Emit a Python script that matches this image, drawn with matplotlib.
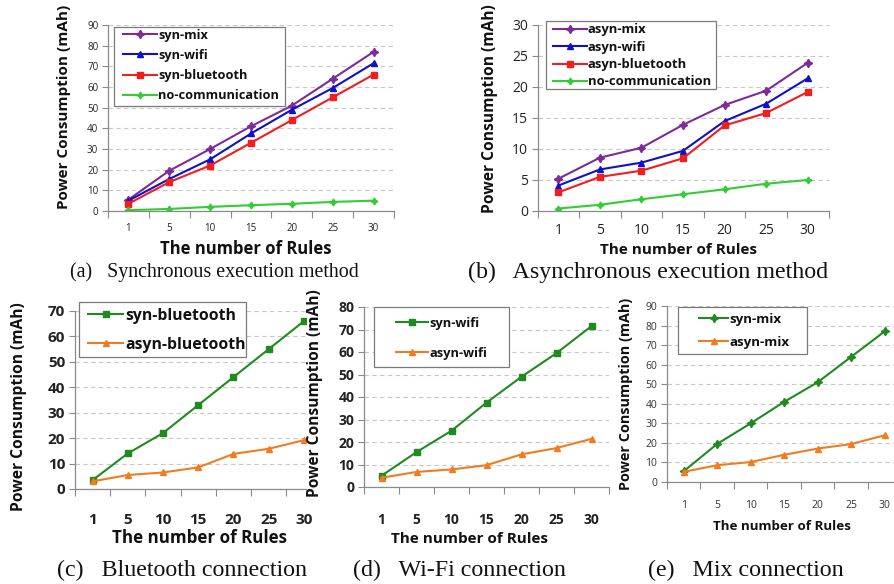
import matplotlib
matplotlib.use("Agg")
import matplotlib.pyplot as plt
from matplotlib.ticker import FixedLocator, NullFormatter
from matplotlib.patches import Rectangle

W, H = 894, 584

rules = ["1", "5", "10", "15", "20", "25", "30"]

# (a) synchronous
syn_mix = [5.5, 19.5, 30, 41, 51, 64, 77]
syn_wifi = [5, 15.5, 25, 37.5, 49, 59.5, 71.5]
syn_bt = [3.5, 14, 22, 33, 44, 55, 66]
no_comm_a = [0.4, 1.0, 2.0, 2.8, 3.5, 4.4, 5.0]

# (b) asynchronous
asyn_mix = [5.2, 8.6, 10.2, 13.9, 17.1, 19.4, 23.9]
asyn_wifi = [4.1, 6.7, 7.8, 9.7, 14.5, 17.3, 21.4]
asyn_bt = [3.0, 5.5, 6.5, 8.5, 13.8, 15.8, 19.2]
no_comm_b = [0.4, 1.0, 1.9, 2.7, 3.5, 4.4, 5.0]

captions = ["(a)   Synchronous execution method",
            "(b)   Asynchronous execution method",
            "(c)   Bluetooth connection",
            "(d)   Wi-Fi connection",
            "(e)   Mix connection"]

SANS = ["Open Sans", "DejaVu Sans"]
LAB = ["Open Sans", "DejaVu Sans"]
SERIF = ["Liberation Serif", "DejaVu Serif"]
plt.rcParams['font.family'] = SANS

fig = plt.figure(figsize=(W / 100, H / 100), dpi=100)
renderer = fig.canvas.get_renderer()


def text_w(s, size, weight, family):
    t = fig.text(0, 0, s, fontsize=size, fontweight=weight, family=family)
    w = t.get_window_extent(renderer=renderer).width
    t.remove()
    return w


def fit(s, target, weight='bold', family=LAB, base=10.0):
    return base * target / text_w(s, base, weight, family)


def px_axes(left, top, right, bottom):
    return fig.add_axes([left / W, 1 - bottom / H, (right - left) / W, (bottom - top) / H])


def style(ax, ymax, ystep, xmax, tick_fs, tick_bold, tick_pad, tick_color):
    x = list(range(len(rules)))
    ax.set_xlim(-0.5, xmax)
    ax.set_ylim(0, ymax)
    ax.set_xticks(x)
    ax.set_xticklabels(rules, fontsize=tick_fs, fontweight='bold' if tick_bold else 'normal',
                       color=tick_color)
    ax.xaxis.set_minor_locator(FixedLocator([i - 0.5 for i in range(len(rules) + 1)]))
    ax.xaxis.set_minor_formatter(NullFormatter())
    ax.tick_params(axis='x', which='major', length=0, pad=tick_pad)
    ax.tick_params(axis='x', which='minor', length=5, color='#8a8a8a', width=0.8, direction='out')
    yt = list(range(0, ymax + 1, ystep))
    ax.set_yticks(yt)
    ax.tick_params(axis='y', length=4, color='#8a8a8a', width=0.8, labelsize=tick_fs, pad=3,
                   labelcolor=tick_color)
    for lab in ax.get_yticklabels():
        lab.set_fontweight('bold' if tick_bold else 'normal')
    for s in ['top', 'right']:
        ax.spines[s].set_visible(False)
    for s in ['left', 'bottom']:
        ax.spines[s].set_color('#8a8a8a')
        ax.spines[s].set_linewidth(0.9)
    ax.yaxis.grid(True, linestyle=(0, (4, 3)), color='#c8c8c8', linewidth=0.8)
    ax.set_axisbelow(True)
    ax.patch.set_alpha(0)


def labels(ax, xl_xy, yl_xy, xw, yw):
    xs = "The number of Rules"
    ys = "Power Consumption (mAh)"
    ax.set_xlabel(xs, fontsize=fit(xs, xw), fontweight='bold', color='#111111', family=LAB)
    ax.set_ylabel(ys, fontsize=fit(ys, yw), fontweight='bold', color='#111111', family=LAB)
    ax.xaxis.set_label_coords(xl_xy[0] / W, 1 - xl_xy[1] / H, transform=fig.transFigure)
    ax.yaxis.set_label_coords(yl_xy[0] / W, 1 - yl_xy[1] / H, transform=fig.transFigure)
    ax.xaxis.label.set_va('center')
    ax.yaxis.label.set_va('center')


def legend(ax, box, hx0, hx1, tx, row1, pitch, longest, wtarget):
    fs = fit(longest, wtarget, 'bold', LAB)
    fpx = fs * 100 / 72
    hl = (hx1 - hx0) / fpx
    htp = (tx - hx1) / fpx
    ls = 0.5
    anchor = [hx0, row1 - 0.7 * fpx]
    prop = {'weight': 'bold', 'size': fs, 'family': LAB}

    def build():
        lg = ax.legend(loc='upper left', bbox_to_anchor=(anchor[0] / W, 1 - anchor[1] / H),
                       bbox_transform=fig.transFigure, borderaxespad=0, borderpad=0,
                       frameon=False, prop=prop, handlelength=hl, handletextpad=htp,
                       labelspacing=ls)
        for t in lg.get_texts():
            t.set_color('#111111')
        lg.set_zorder(6)
        return lg

    for _ in range(3):
        lg = build()
        fig.canvas.draw()
        bbs = [t.get_window_extent(renderer=renderer) for t in lg.get_texts()]
        cy = [H - (b.y0 + b.y1) / 2 for b in bbs]
        mp = (cy[-1] - cy[0]) / (len(cy) - 1)
        ls = max(0.0, ls + (pitch - mp) / fpx)
        anchor[0] += tx - bbs[0].x0
        anchor[1] += row1 - cy[0]
        lg.remove()
    lg = build()
    x0, y0, x1, y1 = box
    rect = Rectangle((x0 / W, 1 - y1 / H), (x1 - x0) / W, (y1 - y0) / H, transform=fig.transFigure,
                     facecolor='white', edgecolor='#7a7a7a', linewidth=0.9, zorder=5, clip_on=False)
    ax.add_artist(rect)
    return lg


x = list(range(len(rules)))
PURPLE = '#7f2a99'
BLUE = '#1010c8'
RED = '#f01e1e'
LGREEN = '#33cc33'
DGREEN = '#208a20'
ORANGE = '#f07c22'
STAR = (4, 1, 0)
LW = 1.5

# ---------------- (a)
axa = px_axes(108, 25, 394, 211)
style(axa, 90, 10, 6.5, 7, False, 9, '#222222')
axa.plot(x, syn_mix, color=PURPLE, lw=LW, marker=STAR, ms=6, label='syn-mix')
axa.plot(x, syn_wifi, color=BLUE, lw=LW, marker='^', ms=5, label='syn-wifi')
axa.plot(x, syn_bt, color=RED, lw=LW, marker='s', ms=4.5, label='syn-bluetooth')
axa.plot(x, no_comm_a, color=LGREEN, lw=LW, marker=STAR, ms=5, label='no-communication')
labels(axa, (246, 249), (64, 107), 172, 203)
legend(axa, (114, 27, 285, 106), 123, 157, 158, 35, 20.3, 'no-communication', 120)

# ---------------- (b)
axb = px_axes(537.5, 25, 828.5, 211)
style(axb, 30, 5, 6.5, 10, False, 9, '#222222')
axb.plot(x, asyn_mix, color=PURPLE, lw=LW, marker=STAR, ms=6, label='asyn-mix')
axb.plot(x, asyn_wifi, color=BLUE, lw=LW, marker='^', ms=5, label='asyn-wifi')
axb.plot(x, asyn_bt, color=RED, lw=LW, marker='s', ms=4.5, label='asyn-bluetooth')
axb.plot(x, no_comm_b, color=LGREEN, lw=LW, marker=STAR, ms=5, label='no-communication')
labels(axb, (679, 250), (490, 109), 158, 208)
legend(axb, (546, 21, 716, 89), 553, 587, 588, 30, 17.3, 'no-communication', 123)

# ---------------- (c)
axc = px_axes(75, 311, 306, 489)
style(axc, 70, 10, 6.06, 11, True, 17, '#222222')
axc.plot(x, syn_bt, color=DGREEN, lw=LW, marker='s', ms=5, label='syn-bluetooth')
axc.plot(x, asyn_bt, color=ORANGE, lw=LW, marker='^', ms=4.5, label='asyn-bluetooth')
labels(axc, (199, 538), (19, 407), 175, 209)
legend(axc, (79, 302, 246, 357), 88, 123, 125, 316, 28.7, 'asyn-bluetooth', 120)

# ---------------- (d)
axd = px_axes(364, 307, 609, 487)
style(axd, 80, 10, 6.5, 10, True, 19, '#222222')
axd.plot(x, syn_wifi, color=DGREEN, lw=LW, marker='s', ms=5, label='syn-wifi')
axd.plot(x, asyn_wifi, color=ORANGE, lw=LW, marker='^', ms=4.5, label='asyn-wifi')
labels(axd, (469, 539), (315, 393), 158, 207)
legend(axd, (374, 307, 509, 367), 396, 428, 429, 323, 30, 'asyn-wifi', 58)

# ---------------- (e)
axe = px_axes(667, 306, 894, 482)
style(axe, 90, 10, 6.28, 7.5, False, 13, '#333333')
axe.plot(x, syn_mix, color=DGREEN, lw=LW, marker=STAR, ms=6, label='syn-mix')
axe.plot(x, asyn_mix, color=ORANGE, lw=LW, marker='^', ms=4.5, label='asyn-mix')
labels(axe, (782, 527), (626, 394), 138, 192)
legend(axe, (678, 307, 807, 354), 699, 728, 729, 319, 23.5, 'asyn-mix', 60)

# ---------------- captions
cap_fit = [(2, 57, 300), (3, 353, 566), (4, 648, 850)]
cap_fs = sum(fit(captions[i], x1 - x0, 'normal', SERIF) for i, x0, x1 in cap_fit) / len(cap_fit)
cap_sizes = [fit(captions[0], 360 - 70, 'normal', SERIF), cap_fs, cap_fs, cap_fs, cap_fs]
cap_pos = [(70, 272), (468, 272), (57, 570), (353, 570), (648, 570)]
for s, (x0, yc), fs in zip(captions, cap_pos, cap_sizes):
    fig.text(x0 / W, 1 - yc / H, s, fontsize=fs, family=SERIF, va='center', ha='left',
             color='#111111')

fig.savefig("out.png", dpi=100)
